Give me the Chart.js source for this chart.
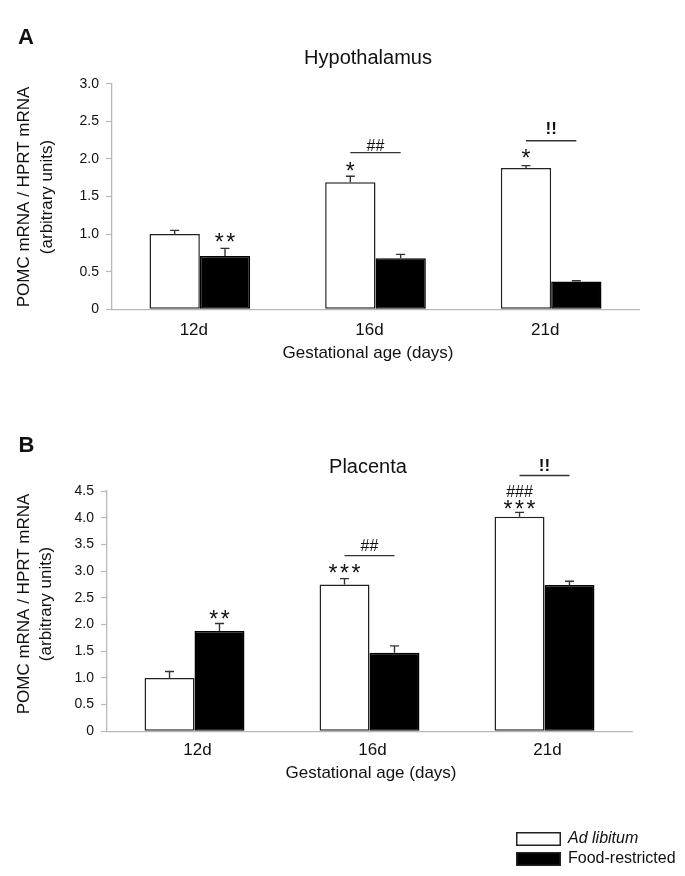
<!DOCTYPE html>
<html><head><meta charset="utf-8">
<script src="https://cdn.jsdelivr.net/npm/chart.js@4/dist/chart.umd.min.js"></script>
<style>
html,body{margin:0;padding:0;background:#fff;}
#wrap{position:relative;width:685px;height:876px;overflow:hidden;}
#cA{position:absolute;left:0;top:0;}
#cB{position:absolute;left:0;top:380px;}
</style></head><body>
<div id="wrap">
<canvas id="cA" width="685" height="380"></canvas>
<canvas id="cB" width="685" height="496"></canvas>
</div>
<script>
// ---------- data ----------
const categories = ['12d', '16d', '21d'];
const seriesNames = ['Ad libitum', 'Food-restricted'];

const hypoAdLib    = [1.00, 1.69, 1.88];
const hypoAdLibErr = [0.05, 0.08, 0.03];
const hypoFood     = [0.71, 0.68, 0.37];
const hypoFoodErr  = [0.10, 0.05, 0.01];

const placAdLib    = [1.00, 2.75, 4.02];
const placAdLibErr = [0.12, 0.11, 0.08];
const placFood     = [1.88, 1.47, 2.74];
const placFoodErr  = [0.14, 0.13, 0.07];

const hypoTickValues = [0, 0.5, 1, 1.5, 2, 2.5, 3];
const hypoTickLabels = ['0', '0.5', '1.0', '1.5', '2.0', '2.5', '3.0'];
const placTickValues = [0, 0.5, 1, 1.5, 2, 2.5, 3, 3.5, 4, 4.5];
const placTickLabels = ['0', '0.5', '1.0', '1.5', '2.0', '2.5', '3.0', '3.5', '4.0', '4.5'];

// significance marks: text, category index, dataset index, y value (ink centre)
const hypoMarks = [
  {text: '**', cat: 0, ds: 1, y: 0.95},
  {text: '*',  cat: 1, ds: 0, y: 1.90},
  {text: '*',  cat: 2, ds: 0, y: 2.07}
];
const hypoBrackets = [
  {text: '##', cat: 1, line: 2.083, y: 2.19},
  {text: '!!', cat: 2, line: 2.242, y: 2.41}
];
const placMarks = [
  {text: '**',  cat: 0, ds: 1, y: 2.18},
  {text: '***', cat: 1, ds: 0, y: 3.05},
  {text: '***', cat: 2, ds: 0, y: 4.25},
  {text: '###', cat: 2, ds: 0, y: 4.50}
];
const placBrackets = [
  {text: '##', cat: 1, line: 3.29, y: 3.49},
  {text: '!!', cat: 2, line: 4.79, y: 4.99}
];

// ---------- styling ----------
const FONT = '"Liberation Sans", Arial, Helvetica, sans-serif';
const AXIS_GRAY = '#b8b8b8';
const EDGE = '#222';

function markStyle(t) {
  if (t.indexOf('*') >= 0) return {font: '23px ' + FONT, spacing: 2.5};
  if (t.indexOf('#') >= 0) return {font: '16px ' + FONT, spacing: 0};
  return {font: 'bold 17px ' + FONT, spacing: 0};
}
function drawMark(ctx, text, x, cy) {
  const st = markStyle(text);
  ctx.font = st.font;
  const hasLS = ('letterSpacing' in ctx);
  if (hasLS) ctx.letterSpacing = st.spacing + 'px';
  ctx.textAlign = 'center';
  ctx.textBaseline = 'alphabetic';
  const m = ctx.measureText(text);
  const base = cy + (m.actualBoundingBoxAscent - m.actualBoundingBoxDescent) / 2;
  ctx.fillText(text, x + (hasLS ? st.spacing / 2 : 0), base);
  if (hasLS) ctx.letterSpacing = '0px';
}

const errorBars = {
  id: 'errorBars',
  afterDatasetsDraw(chart, args, o) {
    const {ctx} = chart;
    const y = chart.scales.y;
    ctx.save();
    ctx.strokeStyle = '#333';
    ctx.lineWidth = 1.4;
    o.errors.forEach((errs, i) => {
      const meta = chart.getDatasetMeta(i);
      const vals = chart.data.datasets[i].data;
      meta.data.forEach((bar, j) => {
        const top = y.getPixelForValue(vals[j] + errs[j]);
        ctx.beginPath();
        ctx.moveTo(bar.x, bar.y);
        ctx.lineTo(bar.x, top);
        ctx.moveTo(bar.x - 4.5, top);
        ctx.lineTo(bar.x + 4.5, top);
        ctx.stroke();
      });
    });
    ctx.restore();
  }
};

const decor = {
  id: 'decor',
  afterDraw(chart, args, o) {
    const {ctx} = chart;
    const y = chart.scales.y;
    ctx.save();
    ctx.fillStyle = '#111';
    // panel letter
    ctx.font = 'bold 22px ' + FONT;
    ctx.textAlign = 'center';
    ctx.textBaseline = 'alphabetic';
    ctx.fillText(o.letter, o.letterX, o.letterY);
    // title
    ctx.font = '20px ' + FONT;
    ctx.fillText(o.title, o.titleX, o.titleY);
    // x axis title
    ctx.font = '17px ' + FONT;
    ctx.fillText(o.xTitle, o.xTitleX, o.xTitleY);
    // y axis title (rotated, two lines)
    o.yTitle.forEach((line, k) => {
      ctx.save();
      ctx.translate(o.yTitleX[k], o.yTitleY);
      ctx.rotate(-Math.PI / 2);
      ctx.textBaseline = 'middle';
      ctx.textAlign = 'center';
      ctx.fillText(line, 0, 0);
      ctx.restore();
    });
    // significance marks
    o.marks.forEach(m => {
      const bar = chart.getDatasetMeta(m.ds).data[m.cat];
      drawMark(ctx, m.text, bar.x, y.getPixelForValue(m.y));
    });
    // brackets
    ctx.strokeStyle = '#333';
    ctx.lineWidth = 1.4;
    o.brackets.forEach(b => {
      const b0 = chart.getDatasetMeta(0).data[b.cat];
      const b1 = chart.getDatasetMeta(1).data[b.cat];
      const ly = y.getPixelForValue(b.line);
      ctx.beginPath();
      ctx.moveTo(b0.x, ly);
      ctx.lineTo(b1.x, ly);
      ctx.stroke();
      drawMark(ctx, b.text, (b0.x + b1.x) / 2, y.getPixelForValue(b.y));
    });
    // legend
    if (o.legend) {
      const L = o.legend;
      chart.data.datasets.forEach((ds, i) => {
        const by = L.y + i * L.gap;
        ctx.fillStyle = ds.backgroundColor;
        ctx.fillRect(L.x, by, L.w, L.h);
        ctx.strokeStyle = EDGE;
        ctx.lineWidth = 1.5;
        ctx.strokeRect(L.x + 0.75, by + 0.75, L.w - 1.5, L.h - 1.5);
        ctx.fillStyle = '#111';
        ctx.font = (i === 0 ? 'italic ' : '') + '16px ' + FONT;
        ctx.textAlign = 'left';
        ctx.textBaseline = 'middle';
        ctx.fillText(ds.label, L.textX, by + L.h / 2);
      });
    }
    ctx.restore();
  }
};

function makeChart(canvasId, cfg) {
  return new Chart(document.getElementById(canvasId), {
    type: 'bar',
    data: {
      labels: categories,
      datasets: [
        {label: seriesNames[0], data: cfg.a, backgroundColor: '#ffffff', borderColor: EDGE,
         borderWidth: 1.5, borderSkipped: false, categoryPercentage: cfg.catPct, barPercentage: 1.0},
        {label: seriesNames[1], data: cfg.b, backgroundColor: '#000000', borderColor: '#000',
         borderWidth: 1.5, borderSkipped: false, categoryPercentage: cfg.catPct, barPercentage: 1.0}
      ]
    },
    options: {
      responsive: false,
      animation: false,
      layout: {padding: cfg.padding},
      plugins: {
        legend: {display: false},
        tooltip: {enabled: false},
        title: {display: false},
        errorBars: {errors: cfg.errors},
        decor: cfg.decor
      },
      scales: {
        x: {
          grid: {display: false, drawTicks: false},
          border: {display: true, color: AXIS_GRAY, width: 1.3},
          ticks: {color: '#111', font: {family: FONT, size: 17, lineHeight: 1.2},
                  padding: cfg.xPad, labelOffset: cfg.labelOffset, maxRotation: 0},
          afterFit: s => { s.height = 40; }
        },
        y: {
          min: 0, max: cfg.max,
          afterBuildTicks: s => { s.ticks = cfg.tickValues.map(v => ({value: v})); },
          grid: {drawOnChartArea: false, drawTicks: true, tickLength: 6, color: AXIS_GRAY, tickColor: AXIS_GRAY, tickWidth: 1.2},
          border: {display: true, color: AXIS_GRAY, width: 1.3},
          ticks: {color: '#111', font: {family: FONT, size: 14}, padding: 7,
                  callback: (v, i) => cfg.tickLabels[i]},
          afterFit: s => { s.width = cfg.yWidth; }
        }
      }
    },
    plugins: [errorBars, decor]
  });
}

makeChart('cA', {
  a: hypoAdLib, b: hypoFood, errors: [hypoAdLibErr, hypoFoodErr],
  max: 3, tickValues: hypoTickValues, tickLabels: hypoTickLabels,
  catPct: 0.573, yWidth: 112, xPad: 10.5, labelOffset: -6,
  padding: {left: 0, right: 46, top: 83.7, bottom: 30.7},
  decor: {
    letter: 'A', letterX: 26, letterY: 43.5,
    title: 'Hypothalamus', titleX: 368, titleY: 63.5,
    xTitle: 'Gestational age (days)', xTitleX: 368, xTitleY: 358,
    yTitle: ['POMC mRNA / HPRT mRNA', '(arbitrary units)'], yTitleX: [24, 47], yTitleY: 197,
    marks: hypoMarks, brackets: hypoBrackets, legend: null
  }
});

makeChart('cB', {
  a: placAdLib, b: placFood, errors: [placAdLibErr, placFoodErr],
  max: 4.5, tickValues: placTickValues, tickLabels: placTickLabels,
  catPct: 0.571, yWidth: 107, xPad: 8.8, labelOffset: 3,
  padding: {left: 0, right: 53, top: 111, bottom: 104.7},
  decor: {
    letter: 'B', letterX: 26.5, letterY: 71.5,
    title: 'Placenta', titleX: 368, titleY: 92.7,
    xTitle: 'Gestational age (days)', xTitleX: 371, xTitleY: 398,
    yTitle: ['POMC mRNA / HPRT mRNA', '(arbitrary units)'], yTitleX: [24, 46.5], yTitleY: 224,
    marks: placMarks, brackets: placBrackets,
    legend: {x: 516, y: 452, w: 45, h: 14, gap: 20, textX: 568}
  }
});
</script>
</body></html>
